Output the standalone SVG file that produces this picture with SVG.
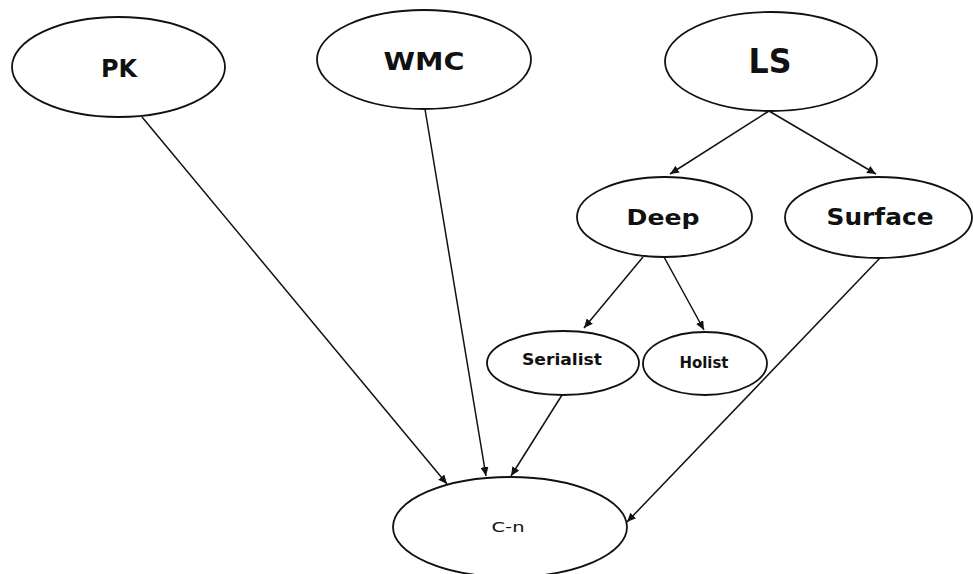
<svg xmlns="http://www.w3.org/2000/svg" width="973" height="574" viewBox="0 0 973 574">
  <style>
    .node ellipse { fill: #ffffff; stroke: #111111; stroke-width: 1.8; }
    .node text { font-family: "DejaVu Sans", "Liberation Sans", sans-serif; font-weight: bold; fill: #111111; text-anchor: middle; }
    .edges line { stroke: #111111; stroke-width: 1.5; fill: none; marker-end: url(#arrow); }
  </style>
  <defs>
    <marker id="arrow" markerUnits="userSpaceOnUse" markerWidth="10" markerHeight="8" refX="9" refY="4" orient="auto">
      <path d="M0,0 L9,4 L0,8 z" fill="#111111"/>
    </marker>
  </defs>
  <rect width="973" height="574" fill="#ffffff"/>

  <g class="edges">
    <line x1="142" y1="117" x2="447" y2="484"/>
    <line x1="425" y1="109" x2="486" y2="476"/>
    <line x1="769" y1="111" x2="670" y2="174"/>
    <line x1="769" y1="111" x2="876" y2="174"/>
    <line x1="643" y1="257" x2="584" y2="328"/>
    <line x1="664" y1="257" x2="704" y2="330"/>
    <line x1="562" y1="395" x2="511" y2="476"/>
    <line x1="880" y1="258" x2="627" y2="522"/>
  </g>

  <g id="pk" class="node">
    <ellipse cx="118.5" cy="67" rx="106.5" ry="50"/>
    <text x="119" y="77" font-size="25" textLength="36" lengthAdjust="spacingAndGlyphs">PK</text>
  </g>
  <g id="wmc" class="node">
    <ellipse cx="424" cy="59.5" rx="107" ry="49.5"/>
    <text x="424" y="70" font-size="25" textLength="81" lengthAdjust="spacingAndGlyphs">WMC</text>
  </g>
  <g id="ls" class="node">
    <ellipse cx="771" cy="61.5" rx="106" ry="49.5"/>
    <text x="770" y="73" font-size="33" textLength="43" lengthAdjust="spacingAndGlyphs">LS</text>
  </g>
  <g id="deep" class="node">
    <ellipse cx="664.5" cy="217" rx="87.5" ry="40"/>
    <text x="663" y="225" font-size="21" textLength="73" lengthAdjust="spacingAndGlyphs">Deep</text>
  </g>
  <g id="surface" class="node">
    <ellipse cx="878.5" cy="217.5" rx="93.5" ry="40.5"/>
    <text x="880" y="225" font-size="23" textLength="107" lengthAdjust="spacingAndGlyphs">Surface</text>
  </g>
  <g id="serialist" class="node">
    <ellipse cx="563" cy="363" rx="76" ry="32"/>
    <text x="562" y="365" font-size="16" textLength="80" lengthAdjust="spacingAndGlyphs">Serialist</text>
  </g>
  <g id="holist" class="node">
    <ellipse cx="705" cy="363.5" rx="62" ry="31.5"/>
    <text x="704" y="368" font-size="15" textLength="49" lengthAdjust="spacingAndGlyphs">Holist</text>
  </g>
  <g id="c-n" class="node">
    <ellipse cx="510" cy="527" rx="117" ry="50"/>
    <text x="508" y="532" font-size="14" font-weight="normal" style="font-weight:normal" textLength="33" lengthAdjust="spacingAndGlyphs">C-n</text>
  </g>
</svg>
